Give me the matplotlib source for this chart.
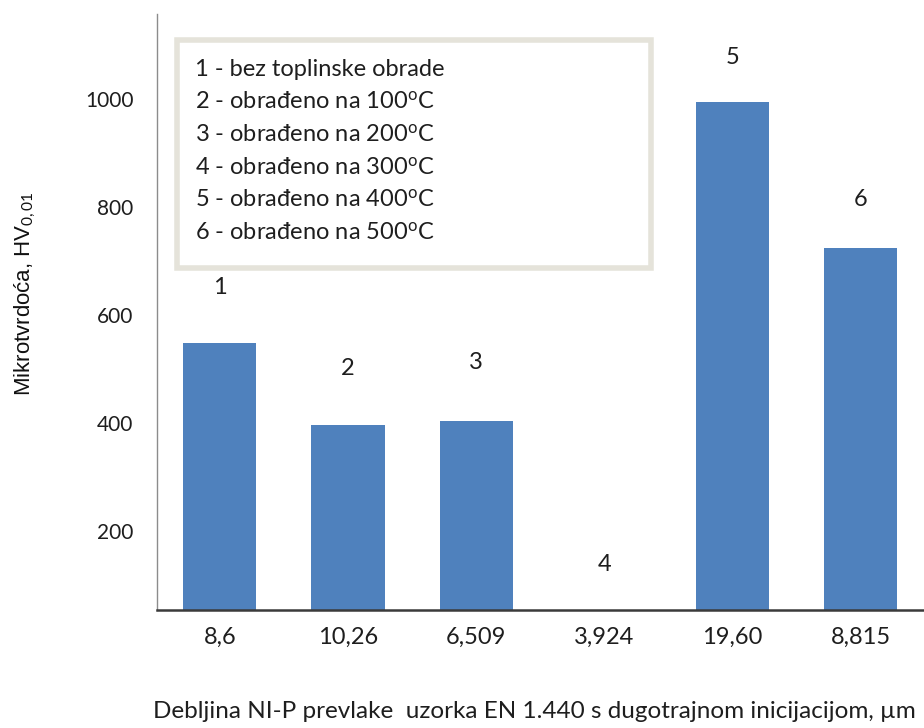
import matplotlib
matplotlib.use("Agg")
import matplotlib.pyplot as plt
from matplotlib.patches import Rectangle

plt.rcParams["font.family"] = ["Lato", "DejaVu Sans"]
plt.rcParams["mathtext.fontset"] = "custom"
plt.rcParams["mathtext.rm"] = "Lato"
plt.rcParams["mathtext.it"] = "Lato"

# Coating thickness (category labels) and microhardness values
thickness_labels = ["8,6", "10,26", "6,509", "3,924", "19,60", "8,815"]
hardness = [548, 396, 404, 0, 994, 724]
sample_ids = ["1", "2", "3", "4", "5", "6"]
label_offsets = [40, 41, 42, 33, 32, 35]  # points above bar top
yticks = [200, 400, 600, 800, 1000]
legend_lines = [
    "1 - bez toplinske obrade",
    "2 - obrađeno na 100$^{\\mathrm{o}}$C",
    "3 - obrađeno na 200$^{\\mathrm{o}}$C",
    "4 - obrađeno na 300$^{\\mathrm{o}}$C",
    "5 - obrađeno na 400$^{\\mathrm{o}}$C",
    "6 - obrađeno na 500$^{\\mathrm{o}}$C",
]

ymin, ymax = 54, 1157
bar_color = "#4f81bd"
text_color = "#1e1e1e"

fig = plt.figure(figsize=(9.24, 7.28), dpi=100)
ax = fig.add_axes([0.170, 0.162, 0.832, 0.819])

x = list(range(len(hardness)))
bottoms = [ymin] * len(hardness)
heights = [max(h - ymin, 0) for h in hardness]
ax.bar(x, heights, bottom=bottoms, width=0.57, color=bar_color, zorder=2)

for xi, h, sid, off in zip(x, hardness, sample_ids, label_offsets):
    ax.annotate(sid, (xi, max(h, ymin)), xytext=(0, off), textcoords="offset points",
                ha="center", va="center", fontsize=17, color=text_color)

ax.set_xlim(-0.49, 5.51)
ax.set_ylim(ymin, ymax)
ax.set_xticks(x)
ax.set_xticklabels(thickness_labels, fontsize=17, color=text_color)
ax.set_yticks(yticks)
ax.set_yticklabels([str(v) for v in yticks], fontsize=15, color=text_color)
ax.tick_params(axis="both", length=0)
ax.tick_params(axis="y", pad=17)
ax.tick_params(axis="x", pad=12)

for s in ["top", "right"]:
    ax.spines[s].set_visible(False)
ax.spines["left"].set_color("#8c8c8c")
ax.spines["left"].set_linewidth(1.0)
ax.spines["bottom"].set_color("#3a3a3a")
ax.spines["bottom"].set_linewidth(1.8)

ax.set_ylabel("Mikrotvrdoća, HV$_{0,01}$", fontsize=16, color="#111111",
              family=["Liberation Sans", "DejaVu Sans"])
ax.yaxis.set_label_coords(-0.155, 0.53)
fig.text(0.578, 0.022, "Debljina NI-P prevlake  uzorka EN 1.440 s dugotrajnom inicijacijom, µm",
         ha="center", va="center", fontsize=17.5, color=text_color)

# Legend box with sample descriptions
box = Rectangle((177 / 924, 1 - 268 / 728), (651 - 177) / 924, (268 - 40) / 728,
                transform=fig.transFigure, facecolor="white", edgecolor="#e5e3da",
                linewidth=4, zorder=5)
fig.patches.append(box)
for i, line in enumerate(legend_lines):
    fig.text(195 / 924, 1 - (69 + i * 32.8) / 728, line, ha="left", va="center",
             fontsize=17, color=text_color, zorder=6)

fig.savefig("out.png", dpi=100)
